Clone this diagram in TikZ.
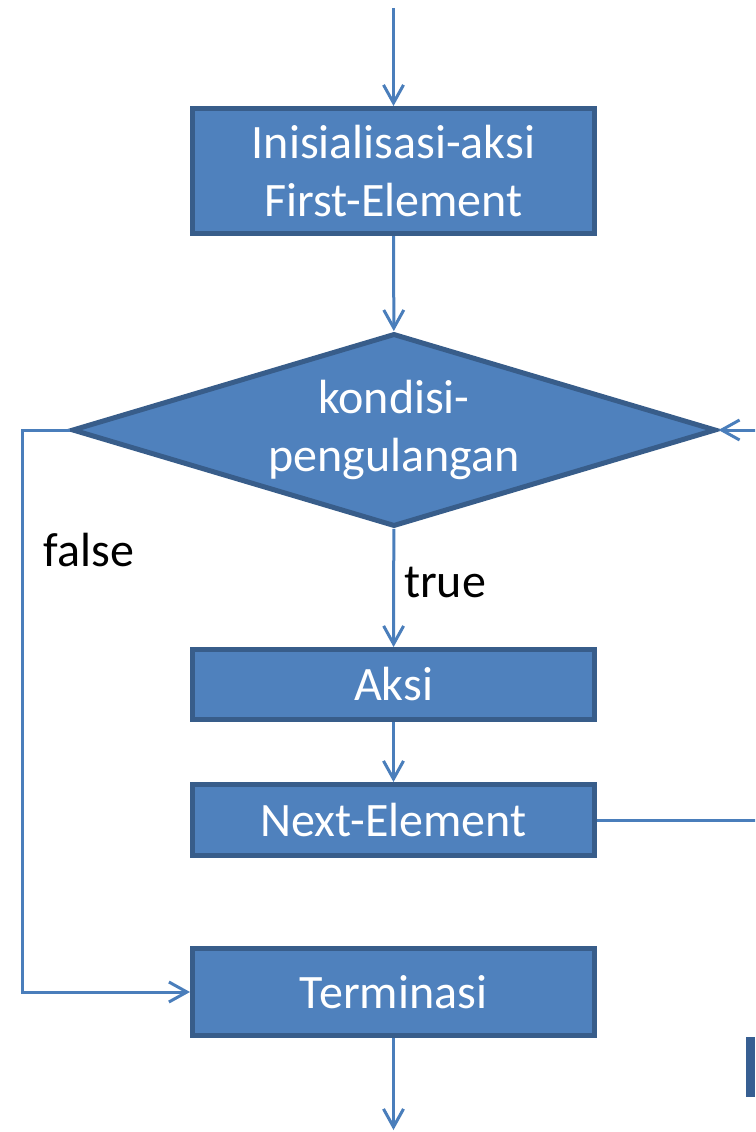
\documentclass[tikz,border=0pt]{standalone}
\usepackage{fontspec}
\setmainfont{Carlito}
\usetikzlibrary{shapes.geometric,arrows.meta}
\definecolor{boxfill}{HTML}{4F81BD}
\definecolor{boxline}{HTML}{385D8A}
\definecolor{connc}{HTML}{4A7EBB}
\definecolor{barc}{HTML}{375F92}
\begin{document}
\begin{tikzpicture}[x=1pt,y=-1pt,
  txt/.style={font=\fontsize{48}{58}\selectfont},
  proc/.style={txt,draw=boxline,fill=boxfill,line width=5pt,text=white,
    minimum width=402pt,inner sep=0pt,align=center},
  dec/.style={txt,diamond,draw=boxline,fill=boxfill,line width=5pt,text=white,
    minimum width=644pt,minimum height=193pt,inner sep=0pt,aspect=3.32,align=center},
  conn/.style={draw=connc,line width=3pt,-{Straight Barb[length=18pt,width=20pt]}},
  lbl/.style={txt,text=black,inner sep=0pt}]
\useasboundingbox (0,0) rectangle (755,1132);
\clip (0,0) rectangle (755,1132);

\node[proc,minimum height=125pt] (init) at (393.5,171) {Inisialisasi-aksi\\First-Element};
\node[dec] (cond) at (394,430) {kondisi-\\pengulangan};
\node[proc,minimum height=70pt] (aksi) at (393.5,684.5) {Aksi};
\node[proc,minimum height=71pt] (next) at (393.5,820) {Next-Element};
\node[proc,minimum height=87pt] (term) at (393.5,992) {Terminasi};

\coordinate (start) at (393.5,8);
\coordinate (finish) at (393.5,1130);
\coordinate (loop) at (780,600);
\coordinate (fcorner) at (22,430);

\draw[conn] (start) -- (init);
\draw[conn] (init) -- (cond);
\draw[conn] (cond) -- (aksi);
\draw[conn] (aksi) -- (next);
\draw[conn] (next.east) -| (loop) |- (cond.east);
\draw[conn] (cond.west) -- (fcorner) |- (term.west);
\draw[conn] (term) -- (finish);

\node[lbl] (tl) at (445,582) {true};
\node[lbl] (fl) at (89,550) {false};

\fill[barc] (746,1037) rectangle (755,1097);
\end{tikzpicture}
\end{document}
